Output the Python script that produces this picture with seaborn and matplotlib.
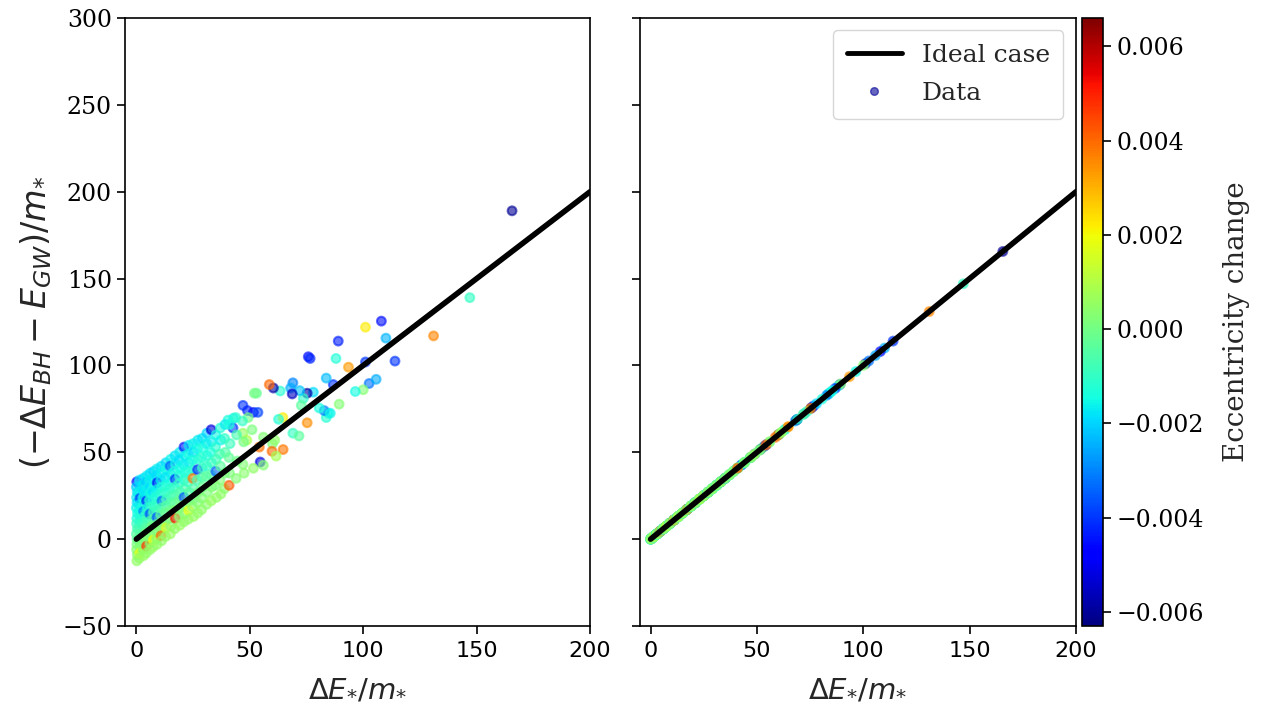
import numpy as np
import pandas as pd
import matplotlib
matplotlib.use("Agg")
import matplotlib.pyplot as plt
import seaborn as sns
from matplotlib.colors import Normalize
from matplotlib.cm import ScalarMappable
from matplotlib.lines import Line2D

# ---------------- data ----------------
# sparse points (x = dE*/m*, y = (-dE_BH - E_GW)/m*, eccentricity change)
sparse_x = [165.6, 147, 131, 114, 110, 108, 101, 101, 89, 88, 93.5, 102.6, 105.7, 100, 96.5,
            89.4, 86.8, 83.7, 84.6, 83.7, 82.8, 80.6, 85.5, 75.8, 76.6, 78, 75.3, 73.6, 72.7,
            72, 69, 68, 68.7, 63.4, 60.4, 58.6, 53, 52, 75.3, 64.6, 62.7, 69, 71.7, 47, 49,
            51.6, 53.6, 49.3, 42.8, 40.4, 42.6, 47, 48.7, 60, 59.8, 64.7, 61.6, 54.6, 56, 51.6,
            51, 56, 61, 54.2]
sparse_y = [189, 139, 117, 102.5, 115.7, 125.5, 122, 102, 114, 104, 99, 89.6, 92, 86, 85,
            77.7, 89, 92.7, 72.5, 70, 74, 75.5, 72.5, 105, 104, 84.6, 84, 81, 77,
            85.5, 90, 87, 83.6, 85.3, 87, 89, 84, 84, 67, 70, 69, 61, 59.4, 77, 74,
            73, 73, 70, 69.6, 68.5, 64, 61, 57, 55, 50.6, 51.6, 47.8, 44.4, 42.6, 40.8,
            63, 58.7, 57, 53]
sparse_c = [-0.0060, -0.0010, 0.0036, -0.0040, -0.0024, -0.0045, 0.0022, -0.0040, -0.0043, -0.0013,
            0.0033, -0.0032, -0.0025, 0.0003, -0.0015, 0.0003, -0.0040, -0.0023, -0.0015, -0.0012,
            -0.0030, -0.0014, -0.0016, -0.0045, -0.0042, -0.0019, -0.0058, -0.0011, -0.0004,
            -0.0022, -0.0030, -0.0025, -0.0055, -0.0012, -0.0058, 0.0040, -0.0002, 0.0000,
            0.0035, 0.0022, -0.0013, -0.0010, -0.0004, -0.0040, -0.0042, -0.0045, -0.0038,
            0.0000, -0.0016, -0.0014, -0.0040, 0.0006, 0.0009, 0.0002, 0.0040, 0.0038, 0.0008,
            -0.0052, 0.0003, 0.0005, 0.0001, 0.0003, 0.0005, 0.0039]

# dense cloud at small dE*/m*
dense_x = [
    0.2, 0.0, 0.4, 0.1, 0.3, 0.0, 0.5, 0.2, 0.1, 0.4, 0.0, 0.3, 0.2, 0.1, 0.4, 0.2,
    1.4, 1.7, 1.2, 1.6, 1.5, 1.3, 1.8, 1.5, 1.4, 1.6, 1.2, 1.7, 1.5, 1.3,
    3.1, 2.8, 3.3, 3.0, 2.9, 3.2, 3.0, 2.7, 3.1, 3.3, 2.9, 3.0, 3.2,
    4.6, 4.4, 4.7, 4.3, 4.5, 4.8, 4.4, 4.6, 4.5, 4.2, 4.7, 4.5, 4.4,
    6.1, 5.9, 6.2, 6.0, 5.8, 6.3, 6.0, 6.1, 5.9, 6.2, 6.0, 6.1,
    7.6, 7.4, 7.7, 7.5, 7.3, 7.8, 7.5, 7.6, 7.2, 7.7, 7.5, 7.4,
    9.1, 8.9, 9.2, 9.0, 8.8, 9.3, 9.0, 9.1, 8.9, 9.2, 9.0, 9.1,
    11.0, 11.2, 10.8, 11.1, 10.9, 11.3, 11.0, 10.7, 11.2, 11.0, 10.9, 11.1,
    13.0, 13.2, 12.8, 13.1, 12.9, 13.3, 13.0, 12.8, 13.2, 13.1, 12.9,
    15.1, 14.9, 15.2, 15.0, 14.8, 15.3, 15.0, 15.1, 14.9, 15.2, 15.0,
    17.0, 17.2, 16.8, 17.1, 16.9, 17.3, 17.0, 16.8, 17.2, 17.0,
    19.1, 18.9, 19.2, 19.0, 18.8, 19.3, 19.0, 19.1, 18.9, 19.2,
    21.0, 21.3, 20.8, 21.1, 20.9, 21.2, 21.0, 20.7, 21.2, 21.0,
    23.1, 22.9, 23.2, 23.0, 22.8, 23.3, 23.0, 23.1, 22.9,
    25.0, 25.2, 24.8, 25.1, 24.9, 25.3, 25.0, 24.8, 25.2,
    27.1, 26.9, 27.2, 27.0, 26.8, 27.3, 27.0, 27.1,
    29.0, 29.2, 28.8, 29.1, 28.9, 29.3, 29.0, 28.8,
    31.1, 30.9, 31.2, 31.0, 30.8, 31.3, 31.0,
    33.0, 33.2, 32.8, 33.1, 32.9, 33.3, 33.0,
    35.1, 34.9, 35.2, 35.0, 34.8, 35.3,
    37.0, 37.2, 36.8, 37.1, 36.9, 37.3,
    39.1, 38.9, 39.2, 39.0, 38.8,
    41.0, 41.3, 40.8, 41.1, 40.9,
    43.8, 44.2, 44.5, 44.0,
    46.8, 47.3, 47.0, 47.5]
dense_y = [
    33, 30, 27, 24, 21, 18, 15, 12, 9, 6, 3, 0, -3, -6, -9, -12.5,
    34, 30.5, 27, 23.5, 20, 16.5, 13, 9.5, 6, 2.5, -1, -4.5, -8, -11,
    35, 31, 27.5, 24, 20, 16, 12.5, 9, 5, 1.5, -2, -6, -9.5,
    36.5, 33, 29, 25.5, 22, 18, 14.5, 11, 7, 3.5, 0, -4, -8,
    38, 34, 30, 26.5, 22.5, 18.5, 14.5, 10.5, 6.5, 2.5, -2, -6,
    39, 35, 31, 27, 23, 19, 15.5, 11.5, 7.5, 3.5, -0.5, -4.5,
    40.5, 36.5, 32.5, 28.5, 24.5, 20.5, 16.5, 12.5, 8.5, 4.5, 0.5, -3,
    42, 38, 34, 30, 26, 22, 18, 14, 10, 6, 2, -1,
    44, 40, 35.5, 31, 27, 23, 19, 15, 11, 6.5, 1.5,
    46, 42, 37.5, 33, 29, 25, 21, 16.5, 12, 7.5, 3,
    48, 43.5, 39, 34.5, 30, 25.5, 21, 16.5, 12, 6,
    50, 45.5, 41, 36.5, 32, 27, 22.5, 18, 13, 8,
    53, 48, 43, 38.5, 34, 29, 24, 19.5, 14.5, 10,
    54, 49, 44, 39, 33, 27, 21.5, 16.5, 11.5,
    55, 50, 45.5, 40, 35, 29, 23, 18.5, 13,
    57, 52, 46, 40, 34, 27, 21, 15,
    58, 52.5, 47, 41, 35.5, 30, 23.5, 17,
    61, 55, 48, 42, 36, 27, 20,
    63, 56, 50, 44, 37, 30, 22,
    60, 53, 46, 39, 31, 24,
    64, 57, 49, 42, 34, 26,
    66, 58, 50, 38, 29,
    66, 55, 47, 38, 31,
    70, 60, 45, 35,
    68, 56, 43, 38]
dense_c = [
    -0.0046, -0.0021, -0.0018, -0.0017, -0.0019, -0.0016, -0.0015, -0.0014, -0.0010, -0.0008, -0.0005, -0.0003, 0.0001, 0.0003, 0.0004, 0.0005,
    -0.0018, -0.0020, -0.0016, -0.0039, -0.0017, -0.0015, -0.0013, -0.0011, -0.0007, -0.0004, 0.0000, 0.0003, 0.0018, 0.0005,
    -0.0019, -0.0017, -0.0018, -0.0015, -0.0014, -0.0030, -0.0012, -0.0009, -0.0006, -0.0001, 0.0002, 0.0003, 0.0006,
    -0.0017, -0.0021, -0.0016, -0.0018, -0.0042, -0.0014, -0.0011, -0.0008, -0.0005, 0.0001, 0.0003, 0.0047, 0.0005,
    -0.0018, -0.0016, -0.0019, -0.0015, -0.0013, -0.0012, -0.0037, -0.0007, -0.0003, 0.0002, 0.0004, 0.0005,
    -0.0020, -0.0017, -0.0015, -0.0018, -0.0014, -0.0010, -0.0008, -0.0005, 0.0000, 0.0003, 0.0020, 0.0006,
    -0.0017, -0.0019, -0.0045, -0.0016, -0.0013, -0.0011, -0.0009, -0.0036, -0.0002, 0.0002, 0.0004, 0.0005,
    -0.0018, -0.0016, -0.0017, -0.0014, -0.0012, -0.0033, -0.0007, -0.0004, 0.0001, 0.0003, 0.0040, 0.0005,
    -0.0019, -0.0015, -0.0018, -0.0013, -0.0011, -0.0009, -0.0005, -0.0002, 0.0002, 0.0016, 0.0005,
    -0.0016, -0.0035, -0.0017, -0.0015, -0.0012, -0.0008, -0.0006, -0.0001, 0.0002, 0.0004, 0.0006,
    -0.0018, -0.0016, -0.0014, -0.0040, -0.0010, -0.0007, -0.0003, 0.0002, 0.0052, 0.0005,
    -0.0017, -0.0019, -0.0015, -0.0013, -0.0011, -0.0006, -0.0002, 0.0002, 0.0004, 0.0006,
    -0.0044, -0.0017, -0.0016, -0.0014, -0.0012, -0.0008, -0.0036, 0.0001, 0.0003, 0.0005,
    -0.0018, -0.0015, -0.0017, -0.0013, -0.0009, -0.0005, 0.0001, 0.0019, 0.0005,
    -0.0016, -0.0019, -0.0014, -0.0012, 0.0038, -0.0006, -0.0002, 0.0004, 0.0006,
    -0.0017, -0.0015, -0.0013, -0.0041, -0.0008, -0.0001, 0.0003, 0.0005,
    -0.0018, -0.0014, -0.0012, -0.0010, -0.0006, -0.0002, 0.0003, 0.0005,
    -0.0020, -0.0016, -0.0013, -0.0011, -0.0004, 0.0002, 0.0004,
    -0.0052, -0.0017, -0.0014, -0.0010, -0.0005, 0.0003, 0.0006,
    -0.0015, -0.0012, -0.0009, -0.0035, 0.0001, 0.0005,
    -0.0013, -0.0016, -0.0008, -0.0004, 0.0003, 0.0005,
    -0.0017, -0.0011, -0.0006, 0.0001, 0.0004,
    -0.0014, -0.0009, -0.0003, 0.0002, 0.0042,
    -0.0012, -0.0007, -0.0001, 0.0003,
    -0.0010, 0.0000, 0.0003, 0.0004]

ideal_x = [0, 200]
ideal_y = [0, 200]

ecc_min, ecc_max = -0.0063, 0.0066
cbar_ticks = [-0.006, -0.004, -0.002, 0.000, 0.002, 0.004, 0.006]
x_ticks = [0, 50, 100, 150, 200]
y_ticks = [-50, 0, 50, 100, 150, 200, 250, 300]

# ---------------- figure ----------------
sns.set_style("ticks")
plt.rcParams["font.family"] = ["DejaVu Serif"]
plt.rcParams["mathtext.fontset"] = "dejavusans"
plt.rcParams["axes.edgecolor"] = "black"
plt.rcParams["xtick.color"] = "black"
plt.rcParams["ytick.color"] = "black"

df = pd.DataFrame({
    "dE": sparse_x + dense_x,
    "balance": sparse_y + dense_y,
    "ecc": sparse_c + dense_c,
})
# corrected balance in the right panel lies on the ideal line
df["corrected"] = df["dE"]

fig = plt.figure(figsize=(12.69, 7.08), dpi=100)
ax1 = fig.add_axes([0.0985, 0.1158, 0.3665, 0.8588])
ax2 = fig.add_axes([0.5043, 0.1158, 0.3436, 0.8588])
cax = fig.add_axes([0.8526, 0.1158, 0.0166, 0.8588])

norm = Normalize(vmin=ecc_min, vmax=ecc_max)
cmap = plt.get_cmap("jet")

for ax, ycol in [(ax1, "balance"), (ax2, "corrected")]:
    sns.lineplot(x=ideal_x, y=ideal_y, ax=ax, color="black", linewidth=4,
                 zorder=5, legend=False)
    sns.scatterplot(data=df, x="dE", y=ycol, hue="ecc", palette=cmap,
                    hue_norm=norm, ax=ax, s=40, alpha=0.6, edgecolor="face",
                    linewidth=1.5, legend=False, zorder=3)
    ax.set_xlim(-5, 200)
    ax.set_ylim(-50, 300)
    ax.set_xticks(x_ticks)
    ax.set_xticklabels([str(t) for t in x_ticks], family="DejaVu Sans", fontsize=16)
    ax.set_yticks(y_ticks)
    ax.set_xlabel(r"$\Delta E_{*}/m_{*}$", fontsize=21, labelpad=10)
    for sp in ax.spines.values():
        sp.set_visible(True)
        sp.set_linewidth(1.2)
    ax.tick_params(length=6, width=1.2)
    ax.tick_params(axis="x", pad=5)

ax1.set_yticklabels([str(t).replace("-", "\u2212") for t in y_ticks], fontsize=17)
ax1.set_ylabel(r"$(-\Delta E_{BH}-E_{GW})/m_{*}$", fontsize=24, labelpad=6)
ax2.set_ylabel("")
ax2.set_yticklabels([])

handles = [Line2D([0], [0], color="black", lw=3.5),
           Line2D([0], [0], marker="o", ls="", markersize=5.5,
                  markerfacecolor=cmap(norm(-0.0060)), markeredgecolor=cmap(norm(-0.0060)),
                  alpha=0.6)]
ax2.legend(handles, ["Ideal case", "Data"], loc="upper right", fontsize=18,
           frameon=True, fancybox=True, framealpha=0.8, edgecolor="#cccccc",
           handlelength=2.2, labelspacing=0.6, borderpad=0.55)

sm = ScalarMappable(norm=norm, cmap=cmap)
cb = fig.colorbar(sm, cax=cax, ticks=cbar_ticks)
cb.set_label("Eccentricity change", fontsize=20, labelpad=14)
cb.ax.tick_params(labelsize=17, length=6, width=1.2)
cb.outline.set_linewidth(1.2)
cb.ax.set_yticklabels([f"{t:.3f}".replace("-", "\u2212") for t in cbar_ticks])

fig.savefig("out.png", dpi=100)
